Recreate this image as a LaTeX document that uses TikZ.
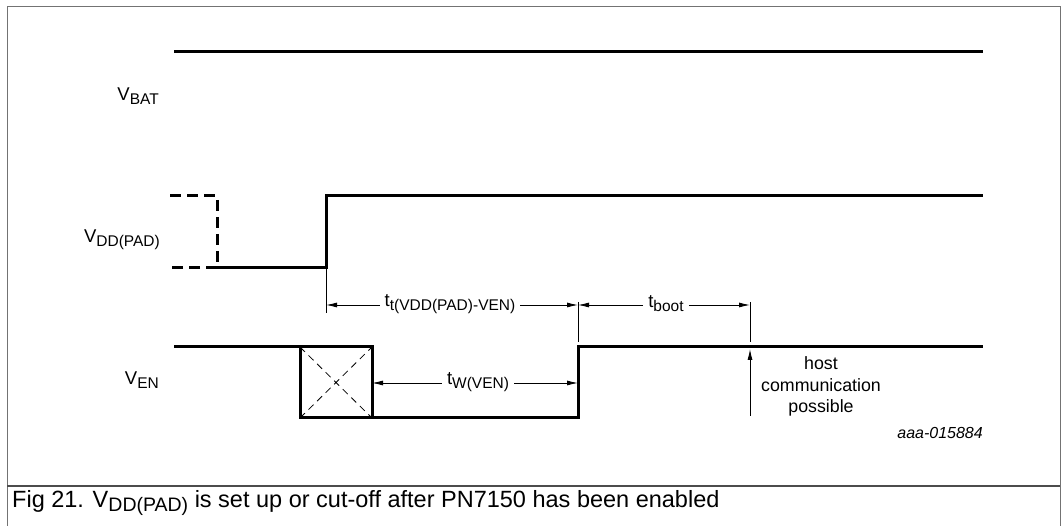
\documentclass[tikz,border=0pt]{standalone}
\usepackage{fontspec}
\setmainfont{Liberation Sans}
\usetikzlibrary{arrows.meta}
\newcommand\lsub[1]{\raisebox{-0.4ex}{\fontsize{15.5}{15.5}\selectfont #1}}
\newcommand\csub[1]{\raisebox{-0.4ex}{\fontsize{19.5}{19.5}\selectfont #1}}
\begin{document}
\begin{tikzpicture}[x=1pt,y=-1pt,
  sig/.style={line width=3pt,line cap=butt,line join=miter},
  sigdash/.style={line width=3pt,dash pattern=on 11pt off 6pt},
  dim/.style={line width=0.9pt},
  dimarrow/.style={line width=0.9pt,-{Latex[length=11pt,width=5pt]}},
  lbl/.style={font=\fontsize{18.5}{18.5}\selectfont,inner sep=0pt},
  dlbl/.style={font=\fontsize{18.5}{18.5}\selectfont,inner sep=5pt},
  frame/.style={draw=black!55,line width=1pt}]
\useasboundingbox (0,0) rectangle (1061,526);
\fill[white] (0,0) rectangle (1061,526);
% frame
\draw[frame] (7,530) -- (7,7) -- (1060,7) -- (1060,530);
\draw[draw=black!70,line width=1.2pt] (7,486) -- (1060,486);
% labels
\node[lbl,anchor=east] (vbat) at (159,96) {V\lsub{BAT}};
\node[lbl,anchor=east] (vdd) at (160,240) {V\lsub{DD(PAD)}};
\node[lbl,anchor=east] (ven) at (159,380) {V\lsub{EN}};
% coordinates
\coordinate (r1) at (326,268);
\coordinate (r1t) at (326,196);
\coordinate (e1) at (326,313);
\coordinate (r2) at (578,418);
\coordinate (r2t) at (578,347);
\coordinate (e2) at (578,302);
\coordinate (e2b) at (578,342);
\coordinate (e3) at (750,302);
\coordinate (e3b) at (750,342);
\coordinate (bxl) at (300,347);
\coordinate (bxr) at (372,418);
% VBAT
\draw[sig] (174,52) -- (983,52);
% VDD(PAD)
\draw[sigdash] (170,196) -- (217,196) -- (217,268);
\draw[sigdash] (217,268) -- (172,268);
\draw[sig] (217,268) -- (r1) -- (r1t) -- (983,196);
% VEN
\draw[sig] (174,347) -- (bxl |- 0,347);
\draw[sig] (bxl) rectangle (bxr);
\draw[dash pattern=on 7pt off 5pt,line width=0.8pt] (bxl) -- (bxr) (bxl |- bxr) -- (bxr |- bxl);
\draw[sig] (bxr) -- (r2) -- (r2t) -- (983,347);
% extension lines
\draw[dim] (r1) -- (e1);
\draw[dim] (e2) -- (e2b);
\draw[dim] (e3) -- (e3b);
% dimension tt
\node[dlbl] (tt) at (450,304) {t\lsub{t(VDD(PAD)-VEN)}};
\draw[dimarrow] (tt.west |- 0,305) -- (326,305);
\draw[dimarrow] (tt.east |- 0,305) -- (578,305);
% tboot
\node[dlbl] (tb) at (666,304) {t\lsub{boot}};
\draw[dimarrow] (tb.west |- 0,305) -- (578,305);
\draw[dimarrow] (tb.east |- 0,305) -- (750,305);
% tW(VEN)
\node[dlbl] (tw) at (478,382) {t\lsub{W(VEN)}};
\draw[dimarrow] (tw.west |- 0,383) -- (372,383);
\draw[dimarrow] (tw.east |- 0,383) -- (578,383);
% host arrow
\coordinate (ha) at (750,416);
\draw[dimarrow] (ha) -- (750,349);
\node[lbl,align=center,font=\fontsize{17.8}{21.5}\selectfont] (host) at (821,386.5) {host\\communication\\possible};
\node[lbl,anchor=east,font=\fontsize{16}{16}\selectfont\itshape] (id) at (983,433) {aaa-015884};
% caption
\node[lbl,anchor=west,font=\fontsize{23.5}{23.5}\selectfont] (cap) at (12,503) {Fig 21. V\csub{DD(PAD)} is set up or cut-off after PN7150 has been enabled};
\end{tikzpicture}
\end{document}
